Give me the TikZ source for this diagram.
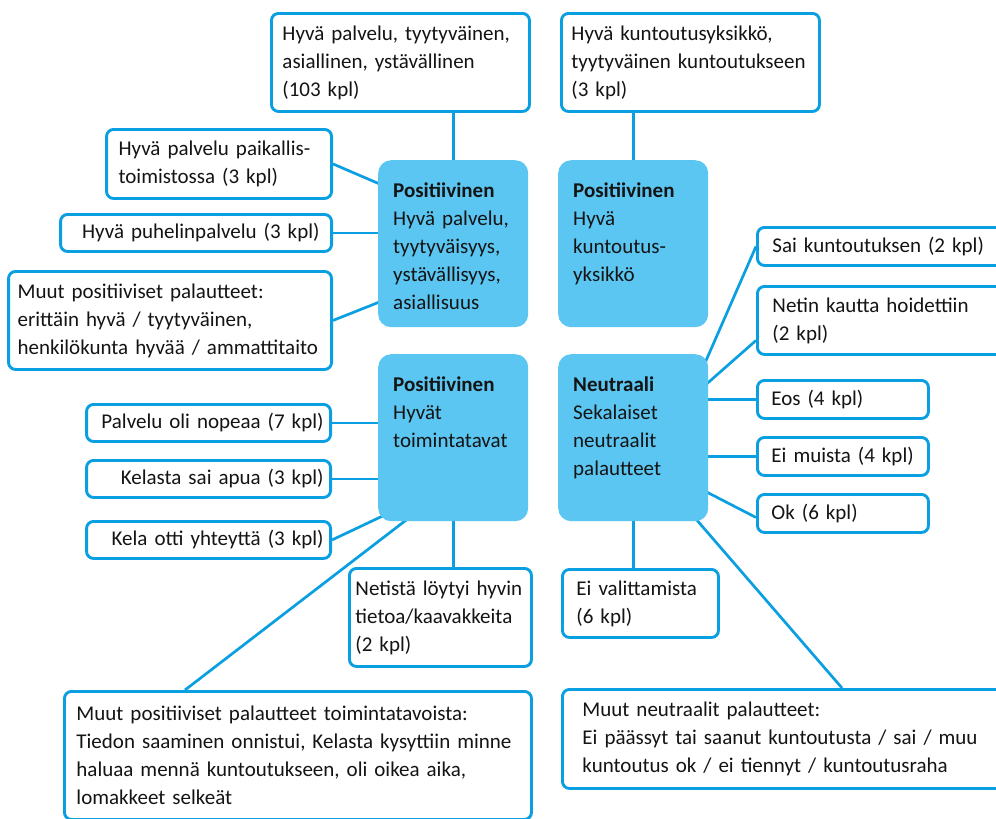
\documentclass[tikz,border=0pt]{standalone}
\usepackage{fontspec}
\setmainfont{Carlito}
\usepackage{tikz}
\usepackage{xcolor}
\usetikzlibrary{positioning,backgrounds}

\definecolor{kelablue}{HTML}{0A9FE0}
\definecolor{kelalight}{HTML}{5BC6F2}
\definecolor{inktext}{HTML}{141414}
\newcommand{\boxfont}{\fontsize{21}{28}\selectfont\color{inktext}\hyphenpenalty=10000}

\begin{document}
\begin{tikzpicture}[x=1pt, y=-1pt,
    leaf/.style={draw=kelablue, line width=2.9pt, rounded corners=7pt, fill=white,
        inner xsep=14pt, inner ysep=0pt, align=left, font=\boxfont},
    hub/.style={fill=kelalight, rounded corners=13pt, inner xsep=15pt, inner ysep=20pt,
        text width=120pt, text height=17pt, text depth=110pt, align=left,
        anchor=north west, font=\boxfont},
    link/.style={draw=kelablue, line width=2.7pt}]
    \clip (0,0) rectangle (996,819);

    % keskimmaiset laatikot
    \node[hub] (hubA) at (378,160) {\textbf{Positiivinen}\\ Hyvä palvelu,\\ tyytyväisyys,\\ ystävällisyys,\\ asiallisuus};
    \node[hub] (hubB) at (558,160) {\textbf{Positiivinen}\\ Hyvä\\ kuntoutus-\\ yksikkö};
    \node[hub] (hubC) at (378,354) {\textbf{Positiivinen}\\ Hyvät\\ toimintatavat};
    \node[hub] (hubD) at (558,354) {\textbf{Neutraali}\\ Sekalaiset\\ neutraalit\\ palautteet};

    % ylarivi
    \node[leaf, anchor=north west, text width=236pt, minimum height=98pt, inner xsep=11pt] (top1) at (270,12)
        {Hyvä palvelu, tyytyväinen,\\ asiallinen, ystävällinen\\ (103 kpl)};
    \node[leaf, anchor=north west, text width=238pt, minimum height=98pt, inner xsep=10pt] (top2) at (560,12)
        {Hyvä kuntoutusyksikkö,\\ tyytyväinen kuntoutukseen\\ (3 kpl)};

    % vasen puoli
    \node[leaf, anchor=north east, text width=201pt, minimum height=69pt, inner xsep=12pt] (l1) at (333,128)
        {Hyvä palvelu paikallis-\\ toimistossa (3 kpl)};
    \node[leaf, anchor=north east, text width=247pt, minimum height=37pt, align=right, inner xsep=12pt] (l2) at (333,213)
        {Hyvä puhelinpalvelu (3 kpl)};
    \node[leaf, anchor=north east, text width=305pt, minimum height=98pt, inner xsep=9pt] (l3) at (333,270)
        {Muut positiiviset palautteet:\\ erittäin hyvä / tyytyväinen,\\ henkilökunta hyvää / ammattitaito};
    \node[leaf, anchor=north east, text width=230pt, minimum height=37pt, align=right, inner xsep=7pt] (c1) at (332,403)
        {Palvelu oli nopeaa (7 kpl)};
    \node[leaf, anchor=north east, text width=230pt, minimum height=37pt, align=right, inner xsep=7pt] (c2) at (332,459)
        {Kelasta sai apua (3 kpl)};
    \node[leaf, anchor=north east, text width=230pt, minimum height=37pt, align=right, inner xsep=7pt] (c3) at (332,520)
        {Kela otti yhteyttä (3 kpl)};
    \node[leaf, anchor=north west, text width=170pt, minimum height=98pt, inner xsep=6pt] (net) at (348,567)
        {Netistä löytyi hyvin\\ tietoa/kaavakkeita\\ (2 kpl)};
    \node[leaf, anchor=north west, text width=443pt, minimum height=128pt, inner xsep=12pt] (bl) at (63,690)
        {Muut positiiviset palautteet toimintatavoista:\\ Tiedon saaminen onnistui, Kelasta kysyttiin minne\\ haluaa mennä kuntoutukseen, oli oikea aika,\\ lomakkeet selkeät};

    % oikea puoli
    \node[leaf, anchor=north west, text width=226pt, minimum height=38pt, inner xsep=15pt] (s1) at (756,226)
        {Sai kuntoutuksen (2 kpl)};
    \node[leaf, anchor=north west, text width=226pt, minimum height=68pt, inner xsep=15pt] (s2) at (756,285)
        {Netin kautta hoidettiin\\ (2 kpl)};
    \node[leaf, anchor=north west, text width=143pt, minimum height=38pt] (eos) at (756,379)
        {Eos (4 kpl)};
    \node[leaf, anchor=north west, text width=143pt, minimum height=38pt] (em) at (756,436)
        {Ei muista (4 kpl)};
    \node[leaf, anchor=north west, text width=143pt, minimum height=38pt] (ok) at (756,493)
        {Ok (6 kpl)};
    \node[leaf, anchor=north west, text width=128pt, minimum height=68pt] (ev) at (561,568)
        {Ei valittamista\\ (6 kpl)};
    \node[leaf, anchor=north west, text width=420pt, minimum height=99pt, inner xsep=20pt] (br) at (561,688)
        {Muut neutraalit palautteet:\\ Ei päässyt tai saanut kuntoutusta / sai / muu\\ kuntoutus ok / ei tiennyt / kuntoutusraha};

    % yhdysviivat
    \begin{pgfonlayer}{background}
    \draw[link] (hubA.north |- top1.south) -- ([yshift=-5pt]hubA.north);
    \draw[link] (hubB.north |- top2.south) -- ([yshift=-5pt]hubB.north);
    \draw[link] (l1.east) -- ([xshift=4pt,yshift=-25pt]hubA.north west);
    \draw[link] (l2.east) -- ([xshift=5pt]l2.east -| hubA.west);
    \draw[link] (l3.east) -- ([xshift=4pt,yshift=-141pt]hubA.north west);
    \draw[link] (c1.east) -- ([xshift=5pt]c1.east -| hubC.west);
    \draw[link] (c2.east) -- ([xshift=5pt]c2.east -| hubC.west);
    \draw[link] (c3.east) -- ([xshift=8pt,yshift=7pt]hubC.south west);
    \draw[link] (hubC.south |- net.north) -- ([yshift=5pt]hubC.south);
    \draw[link] ([xshift=122pt]bl.north west) -- ([xshift=29pt,yshift=2pt]hubC.south west);
    \draw[link] ([xshift=-3pt,yshift=-8pt]hubD.north east) -- (s1.west);
    \draw[link] ([xshift=-3pt,yshift=-31pt]hubD.north east) -- ([yshift=-20pt]s2.west);
    \draw[link] ([xshift=-5pt]eos.west -| hubD.east) -- (eos.west);
    \draw[link] ([xshift=-5pt]em.west -| hubD.east) -- (em.west);
    \draw[link] ([xshift=-3pt,yshift=30pt]hubD.south east) -- ([yshift=-4pt]ok.west);
    \draw[link] ([yshift=5pt]hubD.south) -- (hubD.south |- ev.north);
    \draw[link] ([xshift=-13pt,yshift=3pt]hubD.south east) -- ([xshift=281pt]br.north west);
    \end{pgfonlayer}
\end{tikzpicture}
\end{document}
